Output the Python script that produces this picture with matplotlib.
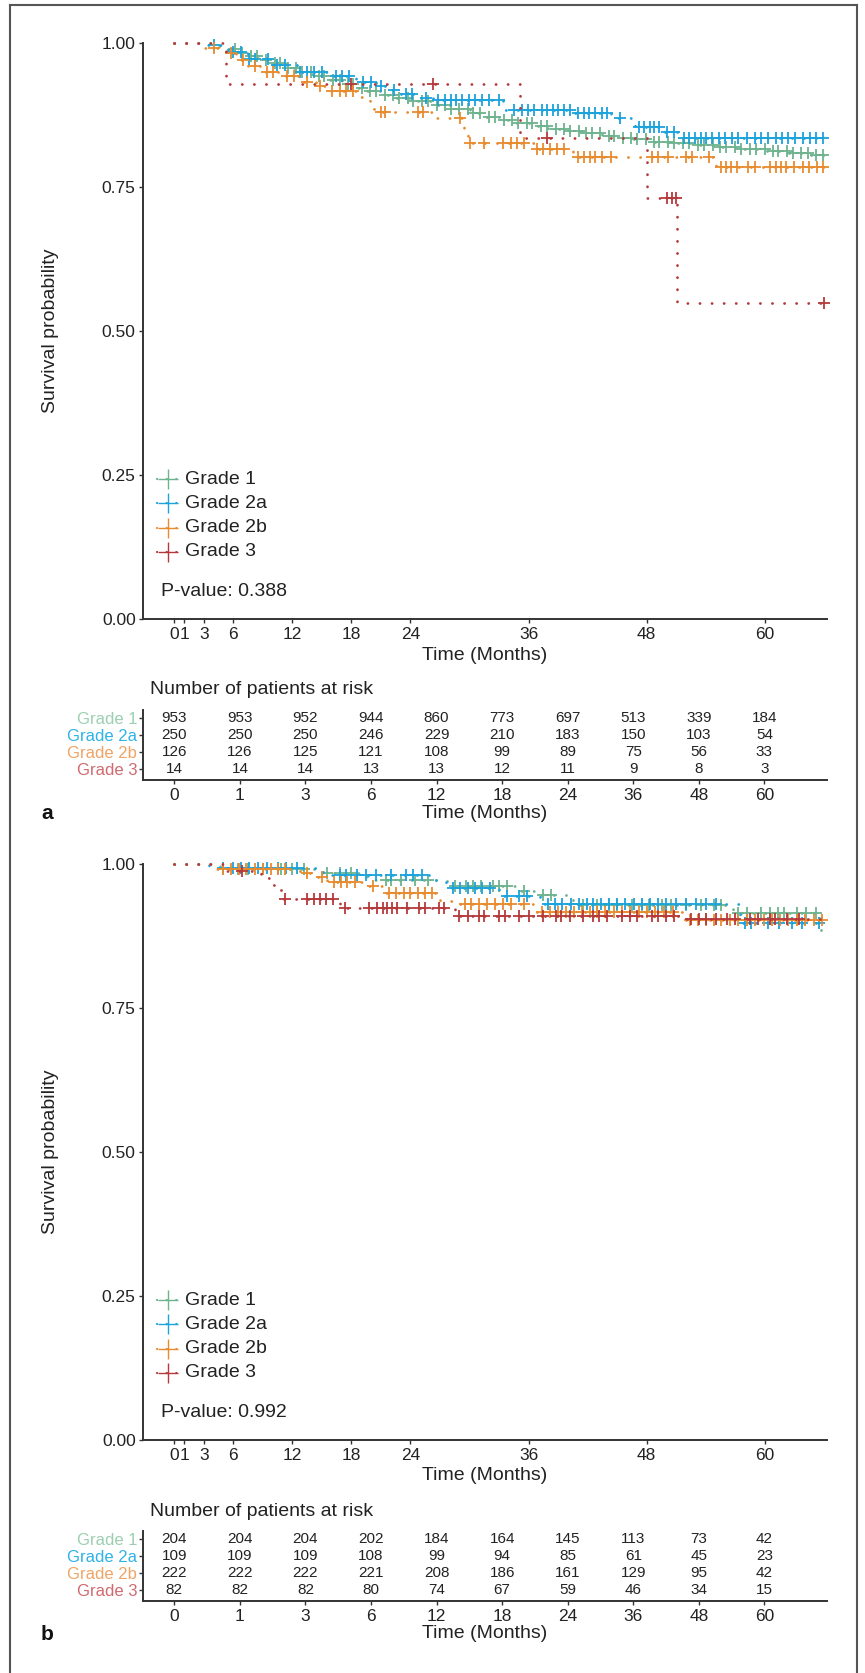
import matplotlib
matplotlib.use("Agg")
import matplotlib.pyplot as plt
from matplotlib.lines import Line2D

plt.rcParams['font.family'] = ['Liberation Sans', 'DejaVu Sans']

W, H = 865, 1673

groups = ["Grade 1", "Grade 2a", "Grade 2b", "Grade 3"]
line_colors = ["#6db38e", "#1ba3dc", "#e88b2e", "#b5393b"]
label_colors = ["#9ccfb1", "#2fb2e6", "#f0a466", "#d06a70"]
risk_times = [0, 1, 3, 6, 12, 18, 24, 36, 48, 60]
end_time = 66.0

# ---- panel a : step times / survival after step / censor times ----
a_t1 = [4.5, 5.5, 6.5, 7.5, 8.5, 10, 11.5, 12.8, 14, 15.5, 17, 18.5, 19.6, 21, 22.5, 24, 26.3, 28,
        30, 31.5, 33.1, 34.8, 36.5, 38, 40, 41.6, 43.5, 45, 46.5, 48.4, 50.5, 52.5, 55.2, 57.5, 60.2,
        62.5, 64.5]
a_s1 = [0.995, 0.99, 0.983, 0.977, 0.971, 0.965, 0.957, 0.949, 0.943, 0.936, 0.929, 0.922, 0.916,
        0.910, 0.904, 0.899, 0.893, 0.886, 0.879, 0.872, 0.866, 0.861, 0.856, 0.851, 0.847, 0.843,
        0.839, 0.836, 0.833, 0.829, 0.826, 0.823, 0.820, 0.816, 0.812, 0.809, 0.806]
a_c1 = [6.2, 6.9, 7.8, 8.4, 9.3, 10.2, 10.7, 11.6, 12.4, 13.0, 13.9, 14.7, 15.2, 16.1, 16.8, 17.7,
        18.2, 19.1, 19.9, 20.5, 21.4, 22.2, 22.8, 23.7, 24.3, 25.2, 25.8, 26.7, 27.5, 28.1, 28.9,
        29.8, 30.4, 31.1, 32.0, 32.6, 33.5, 34.3, 34.9, 35.8, 36.4, 37.3, 37.9, 38.8, 39.6, 40.2,
        41.1, 41.8, 42.4, 43.3, 44.2, 44.7, 45.6, 46.4, 47.0, 47.9, 48.7, 49.3, 50.2, 50.8, 51.7,
        52.3, 53.2, 53.8, 54.7, 55.5, 56.1, 57.0, 57.6, 58.5, 59.1, 60.0, 60.8, 61.4, 62.3, 62.9,
        63.7, 64.4, 65.2, 65.9]

a_t2 = [3.0, 5.5, 7.5, 10, 12.5, 15.5, 18.5, 20.5, 21.5, 23, 25, 26.3, 33.4, 40.5, 44.4, 46.8,
        49.7, 51.5]
a_s2 = [0.996, 0.984, 0.972, 0.962, 0.950, 0.942, 0.933, 0.925, 0.918, 0.911, 0.905, 0.901, 0.884,
        0.878, 0.869, 0.855, 0.846, 0.836]
a_c2 = [4.0, 6.0, 6.8, 7.6, 8.2, 9.5, 10.4, 11.2, 12.8, 13.5, 14.2, 15.0, 16.4, 17.0, 17.8, 19.2,
        20.0, 21.0, 22.3, 23.5, 24.2, 25.6, 26.8, 27.5, 28.1, 28.6, 29.2, 29.9, 30.6, 31.3, 32.0,
        33.0, 34.5, 35.3, 35.9, 36.6, 37.4, 37.9, 38.5, 39.0, 39.6, 40.2, 41.0, 41.6, 42.1, 42.8,
        43.5, 44.0, 45.3, 47.2, 47.7, 48.3, 48.8, 49.3, 50.1, 50.8, 51.8, 52.3, 52.9, 53.5, 54.0,
        54.6, 55.4, 56.0, 56.7, 57.3, 58.2, 59.0, 59.6, 60.3, 61.1, 61.8, 62.4, 63.1, 63.9, 64.6,
        65.2, 65.9]

a_t3 = [2.5, 4.6, 5.3, 6.3, 7.5, 8.9, 10.6, 12.8, 14.4, 15.5, 18.9, 19.9, 20.3, 26.3, 29.4, 29.8,
        36.7, 40.5, 55.0]
a_s3 = [0.992, 0.988, 0.982, 0.970, 0.960, 0.950, 0.942, 0.933, 0.926, 0.916, 0.907, 0.898, 0.881,
        0.869, 0.840, 0.827, 0.816, 0.803, 0.785]
a_c3 = [4.0, 5.8, 7.0, 8.2, 9.4, 10.0, 11.5, 12.2, 13.5, 14.8, 16.0, 16.8, 17.5, 18.2, 21.0, 21.4,
        24.8, 25.3, 29.0, 30.0, 31.5, 33.4, 34.2, 34.8, 35.5, 36.9, 37.5, 38.2, 38.9, 39.6, 41.0,
        41.6, 42.2, 42.8, 43.5, 44.4, 48.5, 49.2, 50.2, 52.0, 52.6, 54.3, 55.6, 56.1, 56.6, 57.2,
        58.3, 59.0, 60.5, 61.1, 61.7, 62.2, 63.0, 63.9, 64.5, 65.3, 65.9]

a_t4 = [5.3, 35.1, 48.0, 51.1]
a_s4 = [0.9286, 0.836, 0.731, 0.548]
a_c4 = [18.0, 26.3, 37.9, 50.1, 50.6, 51.0, 66.0]

a_risk1 = [953, 953, 952, 944, 860, 773, 697, 513, 339, 184]
a_risk2 = [250, 250, 250, 246, 229, 210, 183, 150, 103, 54]
a_risk3 = [126, 126, 125, 121, 108, 99, 89, 75, 56, 33]
a_risk4 = [14, 14, 14, 13, 13, 12, 11, 9, 8, 3]
a_pval = "P-value: 0.388"

# ---- panel b ----
b_t1 = [4.6, 5.3, 14.4, 19.6, 27.7, 35.0, 36.8, 40.5, 56.8, 65.7]
b_s1 = [0.995, 0.991, 0.984, 0.973, 0.961, 0.954, 0.946, 0.929, 0.915, 0.883]
b_c1 = [6.5, 7.5, 9.0, 10.8, 12.0, 13.2, 15.5, 16.8, 18.0, 21.5, 22.0, 23.0, 24.5, 25.8, 28.5,
        29.6, 30.4, 31.2, 32.4, 33.0, 33.8, 35.5, 37.5, 38.3, 41.5, 43.0, 44.2, 45.0, 46.5, 47.5,
        48.2, 49.6, 50.5, 52.0, 53.5, 54.8, 55.6, 57.3, 58.2, 59.6, 60.5, 61.4, 62.0, 63.3, 64.2,
        65.2]

b_t2 = [3.5, 14.6, 15.8, 26.0, 27.6, 33.0, 37.2, 57.5]
b_s2 = [0.993, 0.986, 0.981, 0.972, 0.959, 0.945, 0.930, 0.898]
b_c2 = [5.0, 6.0, 6.8, 7.6, 8.5, 9.4, 10.5, 11.4, 12.5, 16.8, 17.5, 18.6, 19.5, 20.5, 22.0, 23.5,
        24.3, 25.2, 28.3, 29.0, 29.8, 30.6, 31.3, 32.1, 33.8, 35.0, 35.8, 38.0, 38.7, 39.4, 40.3,
        41.1, 41.9, 42.6, 43.4, 44.2, 45.0, 45.8, 46.7, 47.5, 48.3, 49.2, 50.0, 51.0, 52.0, 53.0,
        54.0, 55.0, 58.0, 58.6, 60.3, 61.5, 62.8, 63.8, 65.5]

b_t3 = [4.0, 12.8, 14.4, 15.5, 19.6, 21.2, 27.0, 28.4, 36.7, 51.6]
b_s3 = [0.991, 0.984, 0.978, 0.968, 0.961, 0.949, 0.935, 0.930, 0.917, 0.903]
b_c3 = [5.0, 5.8, 6.6, 7.3, 8.2, 9.0, 9.8, 10.5, 11.3, 13.5, 15.0, 16.2, 16.9, 17.6, 18.4, 20.2,
        21.8, 22.5, 23.3, 24.0, 24.8, 25.5, 26.2, 29.5, 30.2, 31.0, 31.8, 32.6, 33.4, 34.2, 35.5,
        37.4, 38.2, 39.0, 39.8, 40.6, 41.4, 42.2, 43.0, 43.8, 44.7, 45.5, 46.3, 47.2, 48.0, 48.9,
        49.8, 50.7, 52.4, 53.2, 54.0, 54.8, 55.6, 56.5, 57.3, 58.2, 59.0, 59.9, 60.7, 61.6, 62.4,
        63.3, 64.1, 65.0, 65.8]

b_t4 = [5.3, 8.8, 9.7, 10.3, 11.0, 16.8, 28.5, 51.5]
b_s4 = [0.988, 0.975, 0.964, 0.955, 0.940, 0.924, 0.910, 0.905]
b_c4 = [6.9, 11.3, 13.5, 14.2, 14.8, 15.4, 16.1, 17.3, 19.8, 20.6, 21.2, 21.6, 22.1, 22.6, 23.6,
        24.9, 25.5, 26.9, 27.4, 28.9, 29.8, 31.0, 31.5, 33.0, 33.6, 35.0, 36.0, 37.5, 38.8, 39.3,
        40.2, 41.5, 42.5, 43.2, 44.0, 45.5, 46.3, 47.0, 48.5, 49.2, 50.0, 50.8, 52.5, 53.3, 54.0,
        55.0, 56.2, 57.0, 58.5, 59.3, 60.5, 61.0, 62.3, 63.5]

b_risk1 = [204, 204, 204, 202, 184, 164, 145, 113, 73, 42]
b_risk2 = [109, 109, 109, 108, 99, 94, 85, 61, 45, 23]
b_risk3 = [222, 222, 222, 221, 208, 186, 161, 129, 95, 42]
b_risk4 = [82, 82, 82, 80, 74, 67, 59, 46, 34, 15]
b_pval = "P-value: 0.992"

DOT = (0, (0.05, 4.3))
TXT = "#222222"
SPINE = "#333333"


def surv_at(t, times, surv):
    s = 1.0
    for ti, si in zip(times, surv):
        if ti <= t:
            s = si
    return s


def fx(px):
    return px / W


def fy(py):
    return 1 - py / H


fig = plt.figure(figsize=(W / 100, H / 100), dpi=100)


def draw_panel(top, curves, risks, pval, letter):
    # main survival plot
    ax = fig.add_axes([fx(143.3), fy(top + 576.3), 683.4 / W, 576.3 / H])
    for (t, s, c), col in zip(curves, line_colors):
        xs = [0] + t + [end_time]
        ys = [1.0] + s + [s[-1]]
        ax.step(xs, ys, where="post", color=col, lw=2.0, ls=DOT,
                dash_capstyle="round", clip_on=False)
        cy = [surv_at(ci, t, s) for ci in c]
        ax.plot(c, cy, ls="none", marker="+", ms=8, mew=1.3, color=col, clip_on=False)
    ax.set_xlim(-3.15, 66.3)
    ax.set_ylim(0, 1)
    ax.set_xticks(risk_times)
    ax.set_xticklabels([str(v) for v in risk_times])
    ax.set_yticks([0, 0.25, 0.5, 0.75, 1.0])
    ax.set_yticklabels(["0.00", "0.25", "0.50", "0.75", "1.00"])
    for sp in ["top", "right"]:
        ax.spines[sp].set_visible(False)
    for sp in ["left", "bottom"]:
        ax.spines[sp].set_color(SPINE)
        ax.spines[sp].set_linewidth(1.4)
    ax.tick_params(length=3, width=1, color=SPINE, labelsize=12.5, labelcolor=TXT, pad=2.5)

    # legend drawn by hand, like the survminer one
    for i, (g, col) in enumerate(zip(groups, line_colors)):
        yy = fy(479.3 + top - 43 + 24.1 * i)
        fig.add_artist(Line2D([fx(157), fx(179)], [yy, yy], color=col, lw=1.6, ls=DOT,
                              dash_capstyle="round", transform=fig.transFigure))
        fig.add_artist(Line2D([fx(168)], [yy], color=col, marker="+", ms=14, mew=1.0,
                              ls="none", transform=fig.transFigure))
        fig.text(fx(185), yy, g, fontsize=14, color=TXT, va="center", ha="left")
    fig.text(fx(161), fy(591.7 + top - 43), pval, fontsize=14, color=TXT, va="center", ha="left")

    fig.text(fx(51), fy(top + 288), "Survival probability", rotation=90, fontsize=14,
             color=TXT, ha="center", va="center")
    fig.text(fx(485), fy(top + 612), "Time (Months)", fontsize=14, color=TXT,
             ha="center", va="center")

    # risk table
    fig.text(fx(150), fy(top + 647), "Number of patients at risk", fontsize=14, color=TXT,
             ha="left", va="center")
    tb = fig.add_axes([fx(143.3), fy(top + 737), 683.4 / W, 70 / H])
    for g, row in enumerate(risks):
        for i, n in enumerate(row):
            tb.text(i, 4 - g, str(n), ha="center", va="center", fontsize=11, color=TXT)
    tb.set_xlim(-0.473, 9.95)
    tb.set_ylim(0.36, 4.5)
    tb.set_xticks(range(len(risk_times)))
    tb.set_xticklabels([str(v) for v in risk_times])
    tb.set_yticks([4, 3, 2, 1])
    tb.set_yticklabels(groups)
    for lab, col in zip(tb.get_yticklabels(), label_colors):
        lab.set_color(col)
    for sp in ["top", "right"]:
        tb.spines[sp].set_visible(False)
    for sp in ["left", "bottom"]:
        tb.spines[sp].set_color(SPINE)
        tb.spines[sp].set_linewidth(1.4)
    tb.tick_params(axis="x", length=3, width=1, color=SPINE, labelsize=12.5, labelcolor=TXT, pad=2.5)
    tb.tick_params(axis="y", length=3, width=1, color=SPINE, labelsize=12, pad=1.5)
    fig.text(fx(485), fy(top + 770), "Time (Months)", fontsize=14, color=TXT,
             ha="center", va="center")
    fig.text(fx(47), fy(top + 770), letter, fontsize=15, fontweight="bold", color="#111111",
             ha="center", va="center")


draw_panel(43, [(a_t1, a_s1, a_c1), (a_t2, a_s2, a_c2), (a_t3, a_s3, a_c3), (a_t4, a_s4, a_c4)],
           [a_risk1, a_risk2, a_risk3, a_risk4], a_pval, "a")
draw_panel(864, [(b_t1, b_s1, b_c1), (b_t2, b_s2, b_c2), (b_t3, b_s3, b_c3), (b_t4, b_s4, b_c4)],
           [b_risk1, b_risk2, b_risk3, b_risk4], b_pval, "b")

# thin gray frame around the figure
for xs, ys in [([9.5, 9.5], [H + 5, 5]), ([9.5, 857], [5, 5]), ([857, 857], [5, H + 5])]:
    fig.add_artist(Line2D([fx(v) for v in xs], [fy(v) for v in ys], color="#555555", lw=1.5,
                          transform=fig.transFigure))

fig.savefig("out.png", dpi=100)
